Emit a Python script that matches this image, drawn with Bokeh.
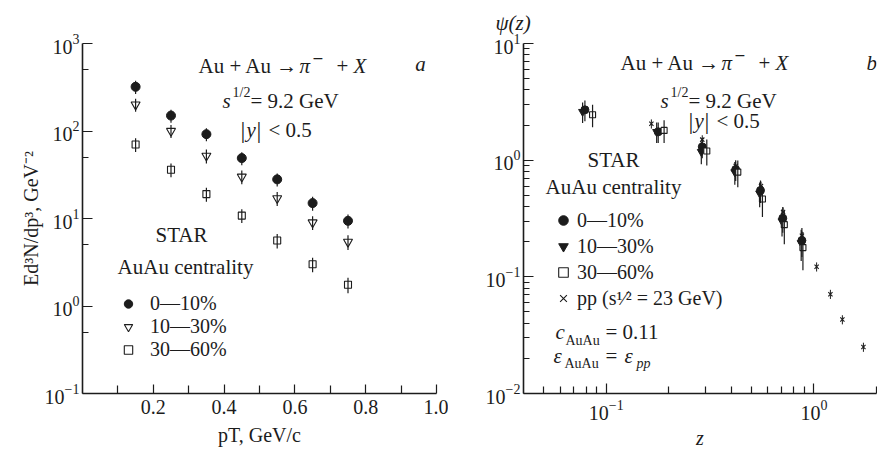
import numpy as np
from bokeh.plotting import figure
from bokeh.models import (Label, Legend, LegendItem, FixedTicker, LogTickFormatter, Range1d,
                          PrintfTickFormatter, Title)
from bokeh.layouts import row
from bokeh.embed import file_html
from bokeh.resources import INLINE

# ---------------- data: panel a (invariant cross section vs pT) ----------------
pt = [0.15, 0.25, 0.35, 0.45, 0.55, 0.65, 0.75]
a_c0_10 = [320, 150, 92, 49, 28, 15, 9.4]
a_c10_30 = [200, 100, 52, 30, 17, 9.0, 5.4]
a_c30_60 = [70, 36, 19, 10.8, 5.6, 3.0, 1.75]
a_err_c0_10 = [0.17, 0.17, 0.17, 0.17, 0.17, 0.18, 0.18]
a_err_c10_30 = [0.17, 0.17, 0.18, 0.18, 0.18, 0.18, 0.19]
a_err_c30_60 = [0.18, 0.18, 0.18, 0.18, 0.19, 0.19, 0.2]

# ---------------- data: panel b (scaling function psi(z)) ----------------
b_z_c0_10 = [0.079, 0.178, 0.29, 0.42, 0.553, 0.708, 0.875]
b_psi_c0_10 = [2.7, 1.75, 1.3, 0.83, 0.55, 0.318, 0.205]
b_err_c0_10 = [0.2, 0.2, 0.2, 0.2, 0.22, 0.25, 0.28]
b_z_c10_30 = [0.077, 0.175, 0.287, 0.416, 0.548, 0.702, 0.868]
b_psi_c10_30 = [2.6, 1.75, 1.18, 0.79, 0.52, 0.30, 0.195]
b_err_c10_30 = [0.2, 0.2, 0.22, 0.22, 0.24, 0.26, 0.3]
b_z_c30_60 = [0.086, 0.19, 0.305, 0.43, 0.565, 0.72, 0.885]
b_psi_c30_60 = [2.45, 1.8, 1.2, 0.79, 0.465, 0.28, 0.178]
b_err_c30_60 = [0.22, 0.22, 0.25, 0.26, 0.3, 0.32, 0.36]
b_z_pp = [0.165, 0.29, 0.42, 0.556, 0.71, 0.875, 1.03, 1.2, 1.37, 1.73]
b_psi_pp = [2.05, 1.5, 0.89, 0.6, 0.36, 0.225, 0.122, 0.071, 0.043, 0.025]
b_err_pp = [0.09, 0.09, 0.09, 0.09, 0.09, 0.09, 0.09, 0.09, 0.09, 0.09]

# ---------------- tick locations and labels ----------------
a_xticks = [0.2, 0.4, 0.6, 0.8, 1.0]
a_xminor = [0.1, 0.3, 0.5, 0.7, 0.9]
a_yticks = [0.1, 1, 10, 100, 1000]
a_yminor = [0.5, 5, 50, 500]
b_xticks = [0.1, 1]
b_xminor = [0.05, 0.06, 0.07, 0.08, 0.09, 0.2, 0.3, 0.4, 0.5, 0.6, 0.7, 0.8, 0.9, 2]
b_yticks = [0.01, 0.1, 1, 10]
b_yminor = [m * 10.0 ** k for k in (-2, -1, 0) for m in range(2, 10)]

legend_labels = ["0\u201410%", "10\u201430%", "30\u201460%"]
pp_label = "pp (s\u00b9\u2044\u00b2 = 23 GeV)"
a_xlabel = "pT, GeV/c"
a_ylabel = "Ed\u00b3N/dp\u00b3, GeV\u207b\u00b2"
b_xlabel = "z"
b_ylabel = "\u03c8(z)"

FONT = "Liberation Serif"
INK = "#1c1c1c"

# ---------------- geometry (picture pixels) ----------------
A_L, A_R, A_T, A_B = 82, 436, 40, 393
B_L, B_R, B_T, B_B = 523, 876, 40, 393
B_XMIN, B_XMAX = 0.04, 2.0


def ax(px):
    return (px - A_L) / (A_R - A_L) * 1.0


def ay(py):
    return 10 ** (3 - 4.0 * (py - A_T) / (A_B - A_T))


def bx(px):
    lo, hi = np.log10(B_XMIN), np.log10(B_XMAX)
    return 10 ** (lo + (px - B_L) / (B_R - B_L) * (hi - lo))


def by(py):
    return 10 ** (1 - 3.0 * (py - B_T) / (B_B - B_T))


def txt(p, x, y, s, size=21, style="normal", align="left"):
    p.add_layout(Label(x=x, y=y, text=s, text_font=FONT, text_font_size=f"{size}px",
                       text_font_style=style, text_align=align, text_baseline="middle",
                       text_color=INK))


def style_axes(p):
    p.outline_line_color = None
    p.grid.visible = False
    p.background_fill_color = "white"
    p.border_fill_color = "white"
    for axis in (p.xaxis[0], p.yaxis[0]):
        axis.axis_line_color = INK
        axis.axis_line_width = 1.6
        axis.major_tick_line_color = INK
        axis.minor_tick_line_color = INK
        axis.major_tick_line_width = 1.2
        axis.minor_tick_line_width = 1.2
        axis.major_tick_out = 0
        axis.minor_tick_out = 0
        axis.major_tick_in = 10
        axis.minor_tick_in = 6
        axis.major_label_text_font = FONT
        axis.major_label_text_font_size = "20px"
        axis.major_label_text_color = INK
        axis.axis_label_text_font = FONT
        axis.axis_label_text_font_size = "20px"
        axis.axis_label_text_color = INK
        axis.axis_label_text_font_style = "normal"
    p.xaxis.major_label_standoff = 6
    p.yaxis.major_label_standoff = 3


def errbars(p, xs, ys, errs, width=1.2):
    lo = [v * (1 - e) for v, e in zip(ys, errs)]
    hi = [v * (1 + e) for v, e in zip(ys, errs)]
    p.segment(x0=xs, y0=lo, x1=xs, y1=hi, line_color=INK, line_width=width)


# ======================= panel a =======================
pa = figure(width=448, height=454, title=None, output_backend="svg", toolbar_location=None,
            x_range=Range1d(0, 1.0), y_range=Range1d(0.1, 1000), y_axis_type="log",
            min_border_left=82, min_border_right=12, min_border_top=40, min_border_bottom=61)
style_axes(pa)
pa.xaxis.ticker = FixedTicker(ticks=a_xticks, minor_ticks=a_xminor)
pa.xaxis.formatter = PrintfTickFormatter(format="%.1f")
pa.xaxis.major_tick_in = 9
pa.xaxis.minor_tick_in = 8
pa.yaxis.ticker = FixedTicker(ticks=a_yticks, minor_ticks=a_yminor)
pa.yaxis.formatter = LogTickFormatter()
pa.xaxis.axis_label = a_xlabel
pa.xaxis.axis_label_standoff = 7
pa.yaxis.axis_label = a_ylabel
pa.yaxis.axis_label_standoff = 0

ra1 = pa.scatter(pt, a_c0_10, marker="circle", size=9, fill_color=INK, line_color=INK)
ra2 = pa.scatter(pt, a_c10_30, marker="inverted_triangle", size=9, fill_color="white", line_color=INK, line_width=1.1)
ra3 = pa.scatter(pt, a_c30_60, marker="square", size=7, fill_color="white", line_color=INK, line_width=1.1)
errbars(pa, pt, a_c0_10, a_err_c0_10)
errbars(pa, pt, a_c10_30, a_err_c10_30)
errbars(pa, pt, a_c30_60, a_err_c30_60)

leg_a = Legend(items=[LegendItem(label=legend_labels[0], renderers=[ra1]),
                      LegendItem(label=legend_labels[1], renderers=[ra2]),
                      LegendItem(label=legend_labels[2], renderers=[ra3])],
               location=(34, 32), padding=0, margin=0, spacing=0,
               glyph_width=24, glyph_height=21, label_height=21, label_standoff=10,
               label_text_font=FONT, label_text_font_size="20px", label_text_color=INK,
               border_line_color=None, background_fill_alpha=0)
pa.add_layout(leg_a)

txt(pa, ax(198), ay(63), "Au + Au \u2192")
txt(pa, ax(299), ay(63), "\u03c0", style="italic")
txt(pa, ax(312), ay(55), "\u2212", size=19, style="bold")
txt(pa, ax(336), ay(63), "+")
txt(pa, ax(353), ay(63), "X", style="italic")
txt(pa, ax(420), ay(61), "a", style="italic", align="center")
txt(pa, ax(222), ay(98), "s", style="italic")
txt(pa, ax(232), ay(89), "1/2", size=14)
txt(pa, ax(250), ay(98), "= 9.2 GeV")
txt(pa, ax(240), ay(127), "|", size=24)
txt(pa, ax(246), ay(127), "y", style="italic")
txt(pa, ax(256), ay(127), "|", size=24)
txt(pa, ax(268), ay(127), "< 0.5")
txt(pa, ax(181), ay(233), "STAR", align="center")
txt(pa, ax(185), ay(265), "AuAu centrality", align="center")

# ======================= panel b =======================
pb = figure(width=429, height=454, output_backend="svg", toolbar_location=None,
            x_range=Range1d(B_XMIN, B_XMAX), y_range=Range1d(0.01, 10),
            x_axis_type="log", y_axis_type="log",
            min_border_left=75, min_border_right=1, min_border_top=40, min_border_bottom=61)
pb.title = Title(text=b_ylabel, align="left", offset=-28, standoff=17, text_font=FONT,
                 text_font_size="21px", text_font_style="italic", text_color=INK)
style_axes(pb)
pb.xaxis.ticker = FixedTicker(ticks=b_xticks, minor_ticks=b_xminor)
pb.xaxis.formatter = LogTickFormatter()
pb.xaxis.minor_tick_in = 7
pb.yaxis.ticker = FixedTicker(ticks=b_yticks, minor_ticks=b_yminor)
pb.yaxis.formatter = LogTickFormatter()
pb.xaxis.axis_label = b_xlabel
pb.xaxis.axis_label_standoff = 4
pb.xaxis.axis_label_text_font_style = "italic"

errbars(pb, b_z_pp, b_psi_pp, b_err_pp, width=1.0)
rb4 = pb.scatter(b_z_pp, b_psi_pp, marker="x", size=6, line_color=INK, line_width=1.1)
rb1 = pb.scatter(b_z_c0_10, b_psi_c0_10, marker="circle", size=8, fill_color=INK, line_color=INK)
rb2 = pb.scatter(b_z_c10_30, b_psi_c10_30, marker="inverted_triangle", size=8, fill_color=INK, line_color=INK)
rb3 = pb.scatter(b_z_c30_60, b_psi_c30_60, marker="square", size=6, fill_color="white", line_color=INK, line_width=1.1)
errbars(pb, b_z_c0_10, b_psi_c0_10, b_err_c0_10)
errbars(pb, b_z_c10_30, b_psi_c10_30, b_err_c10_30)
errbars(pb, b_z_c30_60, b_psi_c30_60, b_err_c30_60)

leg_b = Legend(items=[LegendItem(label=legend_labels[0], renderers=[rb1]),
                      LegendItem(label=legend_labels[1], renderers=[rb2]),
                      LegendItem(label=legend_labels[2], renderers=[rb3]),
                      LegendItem(label=pp_label, renderers=[rb4])],
               location=(28, 82), padding=0, margin=0, spacing=0,
               glyph_width=24, glyph_height=26, label_height=26, label_standoff=2,
               label_text_font=FONT, label_text_font_size="20px", label_text_color=INK,
               border_line_color=None, background_fill_alpha=0)
pb.add_layout(leg_b)

txt(pb, bx(620), by(60), "Au + Au \u2192")
txt(pb, bx(721), by(60), "\u03c0", style="italic")
txt(pb, bx(734), by(52), "\u2212", size=19, style="bold")
txt(pb, bx(758), by(60), "+")
txt(pb, bx(775), by(60), "X", style="italic")
txt(pb, bx(866), by(60), "b", style="italic")
txt(pb, bx(660), by(98), "s", style="italic")
txt(pb, bx(670), by(89), "1/2", size=14)
txt(pb, bx(688), by(98), "= 9.2 GeV")
txt(pb, bx(688), by(118), "|", size=24)
txt(pb, bx(694), by(118), "y", style="italic")
txt(pb, bx(704), by(118), "|", size=24)
txt(pb, bx(716), by(118), "< 0.5")
txt(pb, bx(613), by(158), "STAR", align="center")
txt(pb, bx(613), by(185), "AuAu centrality", align="center")
txt(pb, bx(555), by(331), "c", style="italic")
txt(pb, bx(565), by(340), "AuAu", size=14)
txt(pb, bx(605), by(331), "= 0.11")
txt(pb, bx(553), by(355), "\u03b5", style="italic")
txt(pb, bx(564), by(363), "AuAu", size=14)
txt(pb, bx(605), by(355), "=")
txt(pb, bx(624), by(355), "\u03b5", style="italic")
txt(pb, bx(636), by(363), "pp", size=14, style="italic")

layout = row(pa, pb)
open("out.html", "w").write(file_html(layout, INLINE))
